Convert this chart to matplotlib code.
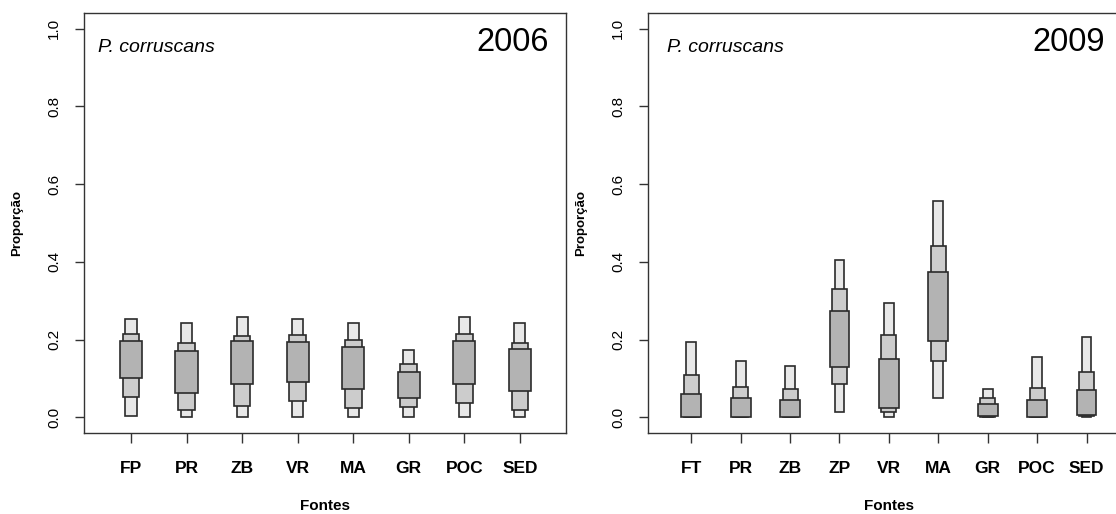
import matplotlib
matplotlib.use("Agg")
import matplotlib.pyplot as plt
import numpy as np

plt.rcParams["font.family"] = ["Liberation Sans", "DejaVu Sans"]

# --- 2006 -------------------------------------------------------------
src_2006 = ["FP", "PR", "ZB", "VR", "MA", "GR", "POC", "SED"]
lo95_2006 = [0.004, 0.000, 0.000, 0.002, 0.000, 0.002, 0.000, 0.000]
hi95_2006 = [0.253, 0.242, 0.258, 0.253, 0.244, 0.173, 0.258, 0.244]
lo75_2006 = [0.053, 0.020, 0.030, 0.043, 0.024, 0.028, 0.037, 0.020]
hi75_2006 = [0.215, 0.191, 0.210, 0.212, 0.200, 0.138, 0.215, 0.192]
lo50_2006 = [0.101, 0.064, 0.086, 0.090, 0.074, 0.050, 0.086, 0.068]
hi50_2006 = [0.197, 0.172, 0.197, 0.193, 0.181, 0.117, 0.197, 0.177]

# --- 2009 -------------------------------------------------------------
src_2009 = ["FT", "PR", "ZB", "ZP", "VR", "MA", "GR", "POC", "SED"]
lo95_2009 = [0.000, 0.000, 0.000, 0.013, 0.000, 0.050, 0.001, 0.000, 0.002]
hi95_2009 = [0.193, 0.144, 0.133, 0.405, 0.295, 0.557, 0.074, 0.155, 0.206]
lo75_2009 = [0.001, 0.001, 0.001, 0.085, 0.013, 0.144, 0.002, 0.001, 0.004]
hi75_2009 = [0.109, 0.079, 0.074, 0.331, 0.211, 0.442, 0.050, 0.076, 0.117]
lo50_2009 = [0.002, 0.002, 0.002, 0.131, 0.025, 0.197, 0.004, 0.002, 0.006]
hi50_2009 = [0.061, 0.049, 0.045, 0.274, 0.151, 0.375, 0.034, 0.044, 0.071]

species = "P. corruscans"

# credible-interval bands: (width, fill) from outer to inner
BANDS = [(0.20, "#e8e8e8"), (0.30, "#cccccc"), (0.40, "#b3b3b3")]
EDGE = "#2b2b2b"


def draw_panel(ax, names, los, his, year, xlim, year_x, sp_x):
    x = np.arange(1, len(names) + 1)
    for (w, fc), lo, hi in zip(BANDS, los, his):
        lo = np.asarray(lo)
        hi = np.asarray(hi)
        ax.bar(x, hi - lo, bottom=lo, width=w, color=fc,
               edgecolor=EDGE, linewidth=1.2, zorder=2)
    ax.set_xlim(*xlim)
    ax.set_ylim(-0.04, 1.04)
    ax.set_xticks(x)
    ax.set_xticklabels(names, fontsize=12.5, fontweight="bold")
    ax.set_yticks(np.arange(0, 1.01, 0.2))
    ax.set_yticklabels([f"{v:.1f}" for v in np.arange(0, 1.01, 0.2)],
                       rotation=90, va="center", fontsize=11)
    ax.tick_params(axis="x", length=7, width=1, pad=13, color="#333333")
    ax.tick_params(axis="y", length=6.5, width=1, pad=10, color="#333333")
    for s in ax.spines.values():
        s.set_linewidth(1.0)
        s.set_color("#333333")

    ax.set_xlabel("Fontes", fontsize=11, fontweight="bold", va="center")
    ax.xaxis.set_label_coords(0.5, -0.174)
    ax.set_ylabel("Proporção", fontsize=9.5, fontweight="bold", va="center")
    ax.yaxis.set_label_coords(-0.138, 0.5)

    ax.text(sp_x, 0.919, species, transform=ax.transAxes, style="italic",
            fontsize=14, va="center", ha="left")
    ax.text(year_x, 0.929, year, transform=ax.transAxes,
            fontsize=23.5, va="center", ha="right")


W, H = 1116, 514
fig = plt.figure(figsize=(W / 100, H / 100), dpi=100)

bottom = (H - 433) / H
height = 420 / H
width = 482 / W

ax1 = fig.add_axes([84 / W, bottom, width, height])
draw_panel(ax1, src_2006, [lo95_2006, lo75_2006, lo50_2006],
           [hi95_2006, hi75_2006, hi50_2006], "2006",
           (0.154, 8.83), (549 - 84) / 482, (98 - 84) / 482)

ax2 = fig.add_axes([648 / W, bottom, width, height])
draw_panel(ax2, src_2009, [lo95_2009, lo75_2009, lo50_2009],
           [hi95_2009, hi75_2009, hi50_2009], "2009",
           (0.124, 9.88), (1105 - 648) / 482, (667 - 648) / 482)

fig.savefig("out.png", dpi=100)
